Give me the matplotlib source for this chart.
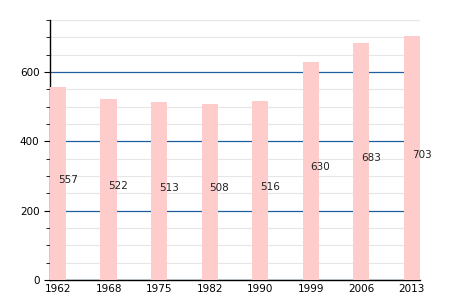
import matplotlib.pyplot as plt
from matplotlib.ticker import MultipleLocator

years = ['1962', '1968', '1975', '1982', '1990', '1999', '2006', '2013']
population = [557, 522, 513, 508, 516, 630, 683, 703]

fig = plt.figure(figsize=(4.5, 3), dpi=100)
ax = fig.add_axes([0.111, 0.067, 0.822, 0.866])

x = range(len(years))
ax.bar(x, population, width=0.32, color='#ffcccc', zorder=3)
for i, v in enumerate(population):
    ax.annotate(str(v), (i, v / 2), xytext=(0, 2.5), textcoords='offset points',
                ha='left', va='center', fontsize=7.5, color='#222222', zorder=4)

ax.set_xlim(-0.16, len(years) - 1 + 0.16)
ax.set_ylim(0, 750)
ax.set_xticks(list(x))
ax.set_xticklabels(years)
ax.yaxis.set_major_locator(MultipleLocator(200))
ax.yaxis.set_minor_locator(MultipleLocator(50))

ax.grid(axis='y', which='minor', color='#e6e6e6', linewidth=0.8, zorder=1)
ax.grid(axis='y', which='major', color='#1f5f9f', linewidth=0.9, zorder=2)
ax.set_axisbelow(True)

for s in ['top', 'right']:
    ax.spines[s].set_visible(False)
ax.spines['left'].set_linewidth(1)
ax.spines['bottom'].set_linewidth(1)
ax.tick_params(axis='x', length=0, labelsize=7.5, pad=3)
ax.tick_params(axis='y', which='major', length=4, labelsize=7.5)
ax.tick_params(axis='y', which='minor', length=3)

fig.savefig('out.png')
